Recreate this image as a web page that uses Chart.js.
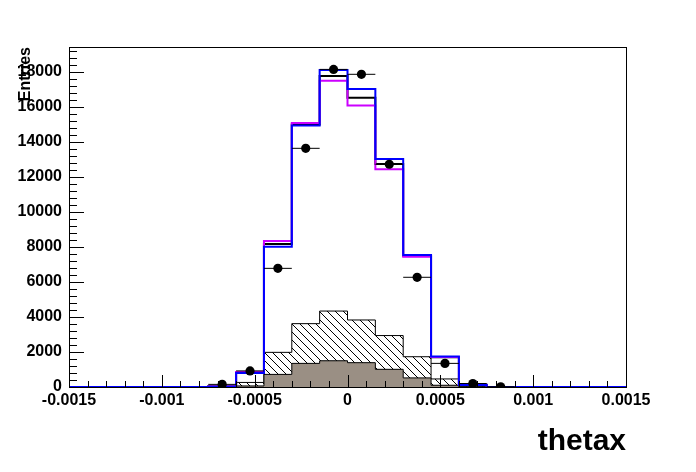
<!DOCTYPE html>
<html><head><meta charset="utf-8">
<script src="https://cdn.jsdelivr.net/npm/chart.js@4/dist/chart.umd.min.js"></script>
<style>html,body{margin:0;padding:0;background:#fff;}#c{display:block;}</style>
</head><body>
<canvas id="c" width="696" height="472"></canvas>
<script>
// ---- data ----
const binEdges = [-0.0015,-0.00135,-0.0012,-0.00105,-0.0009,-0.00075,-0.0006,-0.00045,-0.0003,-0.00015,0,0.00015,0.0003,0.00045,0.0006,0.00075,0.0009,0.00105,0.0012,0.00135,0.0015];
const binCenters = [-0.001425,-0.001275,-0.001125,-0.000975,-0.000825,-0.000675,-0.000525,-0.000375,-0.000225,-0.000075,0.000075,0.000225,0.000375,0.000525,0.000675,0.000825,0.000975,0.001125,0.001275,0.001425];
const totalBlue    = [0,0,0,0,0,20,800,8020,14950,18110,17030,13030,7540,1750,110,0,0,0,0,0];
const totalMagenta = [0,0,0,0,0,30,860,8340,15080,17500,16080,12440,7450,1720,120,0,0,0,0,0];
const totalBlack   = [0,0,0,0,0,40,830,8170,15000,17770,16530,12740,7500,1700,130,0,0,0,0,0];
const hatchedBkg   = [0,0,0,0,0,20,260,1980,3620,4340,3830,2940,1730,460,40,0,0,0,0,0];
const grayBkg      = [0,0,0,0,0,5,60,720,1350,1500,1390,1010,520,100,10,0,0,0,0,0];
const dataCounts   = [0,0,0,0,0,150,920,6780,13640,18150,17870,12730,6270,1350,200,15,0,0,0,0];

const xTickValues = [-0.0015,-0.001,-0.0005,0,0.0005,0.001,0.0015];
const xTickLabels = ['-0.0015','-0.001','-0.0005','0','0.0005','0.001','0.0015'];
const yTickValues = [0,2000,4000,6000,8000,10000,12000,14000,16000,18000];
const yTickLabels = ['0','2000','4000','6000','8000','10000','12000','14000','16000','18000'];
const xMin = -0.0015, xMax = 0.0015, yMin = 0, yMax = 19430;
const xMinorStep = 0.0001, yMinorStep = 400;
const xTitle = 'thetax', yTitle = 'Entries';

// ---- helpers ----
function histPoints(vals){
  // one point per bin edge; value of bin i held from edge i to edge i+1
  return binEdges.map((e,i)=>({x:e, y: vals[Math.min(i, vals.length-1)]}));
}
function errorBarPoints(vals){
  const pts = [];
  vals.forEach((v,i)=>{
    if (v > 0){
      pts.push({x:binEdges[i], y:v});
      pts.push({x:binEdges[i+1], y:v});
      pts.push({x:binCenters[i], y:null});
    }
  });
  return pts;
}
function dotPoints(vals){
  const pts = [];
  vals.forEach((v,i)=>{ if (v > 0) pts.push({x:binCenters[i], y:v}); });
  return pts;
}

const canvas = document.getElementById('c');
const ctx = canvas.getContext('2d');
function makeHatch(){
  const c = document.createElement('canvas'); c.width = 8; c.height = 8;
  const g = c.getContext('2d');
  g.strokeStyle = '#000'; g.lineWidth = 1;
  g.beginPath();
  g.moveTo(0,0); g.lineTo(8,8);
  g.moveTo(-1,7); g.lineTo(1,9);
  g.moveTo(7,-1); g.lineTo(9,1);
  g.stroke();
  return ctx.createPattern(c, 'repeat');
}
const hatch = makeHatch();

const FONT = "'Liberation Sans', Arial, Helvetica, sans-serif";

const rootFrame = {
  id: 'rootFrame',
  afterDatasetsDraw(chart){
    const {ctx, chartArea:a, scales:{x, y}} = chart;
    ctx.save();
    ctx.strokeStyle = '#000';
    ctx.lineWidth = 1;
    ctx.beginPath();
    for (let v = yMin; v <= yMax + 1e-9; v += yMinorStep){
      const py = Math.round(y.getPixelForValue(v)) + 0.5;
      const major = Math.abs(v/2000 - Math.round(v/2000)) < 1e-6;
      const len = major ? 15 : 8;
      ctx.moveTo(a.left, py); ctx.lineTo(a.left + len, py);
    }
    const n = Math.round((xMax - xMin)/xMinorStep);
    for (let k = 0; k <= n; k++){
      const v = xMin + k*xMinorStep;
      const px = Math.round(x.getPixelForValue(v)) + 0.5;
      const major = (k % 5) === 0;
      const len = major ? 12 : 6;
      ctx.moveTo(px, a.bottom); ctx.lineTo(px, a.bottom - len);
    }
    ctx.stroke();
    ctx.strokeRect(Math.round(a.left)+0.5, Math.round(a.top)+0.5, Math.round(a.right-a.left), Math.round(a.bottom-a.top));
    ctx.restore();
  }
};

new Chart(ctx, {
  data: {
    datasets: [
      { type:'scatter', label:'data', data: dotPoints(dataCounts), pointRadius:4.6, pointStyle:'circle',
        backgroundColor:'#000', borderWidth:0, order:0 },
      { type:'line', label:'data errors', data: errorBarPoints(dataCounts), borderColor:'#000', borderWidth:1,
        pointRadius:0, spanGaps:false, fill:false, order:1 },
      { type:'line', label:'total (blue)', data: histPoints(totalBlue), stepped:'before', borderColor:'#0000ff',
        borderWidth:2, pointRadius:0, fill:false, order:2 },
      { type:'line', label:'total (magenta)', data: histPoints(totalMagenta), stepped:'before', borderColor:'#cc00ff',
        borderWidth:2, pointRadius:0, fill:false, order:3 },
      { type:'line', label:'total (black)', data: histPoints(totalBlack), stepped:'before', borderColor:'#000',
        borderWidth:2, pointRadius:0, fill:false, order:4 },
      { type:'line', label:'background 2', data: histPoints(grayBkg), stepped:'before', borderColor:'#000',
        borderWidth:1, pointRadius:0, fill:'origin', backgroundColor:'#9a8f84', order:5 },
      { type:'line', label:'background 1', data: histPoints(hatchedBkg), stepped:'before', borderColor:'#000',
        borderWidth:1, pointRadius:0, fill:'origin', backgroundColor:hatch, order:6 }
    ]
  },
  options: {
    responsive:false, animation:false, devicePixelRatio:1,
    layout:{ padding:{ top:47, right:70, left:0, bottom:0 } },
    plugins:{ legend:{display:false}, tooltip:{enabled:false} },
    scales:{
      x:{ type:'linear', min:xMin, max:xMax, offset:false,
        grid:{display:false, drawTicks:false}, border:{display:false},
        afterBuildTicks(s){ s.ticks = xTickValues.map(v=>({value:v})); },
        afterFit(s){ s.height = 85; },
        ticks:{ autoSkip:false, maxRotation:0, padding:4, color:'#000',
          font:{family:FONT, size:16, weight:'bold'},
          callback:(v,i)=>xTickLabels[i] },
        title:{ display:true, text:xTitle, align:'end', color:'#000',
          font:{family:FONT, size:30, weight:'bold'}, padding:{top:0, bottom:12} }
      },
      y:{ type:'linear', min:yMin, max:yMax,
        grid:{display:false, drawTicks:false}, border:{display:false},
        afterBuildTicks(s){ s.ticks = yTickValues.map(v=>({value:v})); },
        afterFit(s){ s.width = 69; },
        ticks:{ autoSkip:false, padding:7, color:'#000',
          font:{family:FONT, size:16, weight:'bold'},
          callback:(v,i)=>yTickLabels[i] },
        title:{ display:true, text:yTitle, align:'end', color:'#000',
          font:{family:FONT, size:16, weight:'bold'}, padding:{top:16, bottom:0} }
      }
    }
  },
  plugins:[rootFrame]
});
</script>
</body></html>
